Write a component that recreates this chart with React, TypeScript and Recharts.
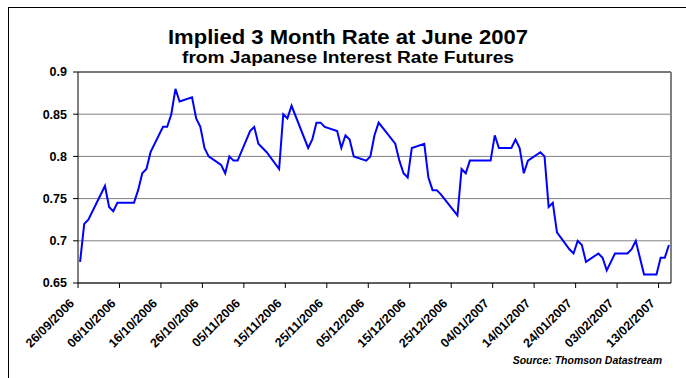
import React from "react";
import {
  LineChart,
  Line,
  XAxis,
  YAxis,
  CartesianGrid,
  ReferenceLine,
} from "recharts";

const dates: string[] = [
  "26/09/2006", "27/09/2006", "28/09/2006", "02/10/2006", "03/10/2006", "04/10/2006", "05/10/2006",
  "09/10/2006", "10/10/2006", "11/10/2006", "12/10/2006", "13/10/2006", "16/10/2006", "17/10/2006",
  "18/10/2006", "19/10/2006", "20/10/2006", "23/10/2006", "24/10/2006", "25/10/2006", "26/10/2006",
  "27/10/2006", "30/10/2006", "31/10/2006", "01/11/2006", "02/11/2006", "03/11/2006", "06/11/2006",
  "07/11/2006", "08/11/2006", "10/11/2006", "13/11/2006", "14/11/2006", "15/11/2006", "16/11/2006",
  "20/11/2006", "21/11/2006", "22/11/2006", "23/11/2006", "24/11/2006", "27/11/2006", "28/11/2006",
  "29/11/2006", "30/11/2006", "01/12/2006", "04/12/2006", "05/12/2006", "06/12/2006", "07/12/2006",
  "11/12/2006", "12/12/2006", "13/12/2006", "14/12/2006", "15/12/2006", "18/12/2006", "19/12/2006",
  "20/12/2006", "21/12/2006", "22/12/2006", "26/12/2006", "27/12/2006", "28/12/2006", "29/12/2006",
  "03/01/2007", "04/01/2007", "05/01/2007", "08/01/2007", "09/01/2007", "10/01/2007", "11/01/2007",
  "12/01/2007", "15/01/2007", "16/01/2007", "17/01/2007", "18/01/2007", "19/01/2007", "22/01/2007",
  "23/01/2007", "24/01/2007", "25/01/2007", "26/01/2007", "29/01/2007", "30/01/2007", "31/01/2007",
  "02/02/2007", "05/02/2007", "06/02/2007", "07/02/2007", "09/02/2007", "12/02/2007", "13/02/2007",
  "14/02/2007", "15/02/2007",
];

const rates: number[] = [
  0.675, 0.72, 0.725, 0.765, 0.74, 0.735, 0.745,
  0.745, 0.76, 0.78, 0.785, 0.805, 0.835, 0.835,
  0.85, 0.88, 0.865, 0.87, 0.845, 0.835, 0.81,
  0.8, 0.79, 0.78, 0.8, 0.795, 0.795, 0.83,
  0.835, 0.815, 0.805, 0.785, 0.85, 0.845, 0.86,
  0.81, 0.82, 0.84, 0.84, 0.835, 0.83, 0.81,
  0.825, 0.82, 0.8, 0.795, 0.8, 0.825, 0.84,
  0.815, 0.795, 0.78, 0.775, 0.81, 0.815, 0.775,
  0.76, 0.76, 0.755, 0.73, 0.785, 0.78, 0.795,
  0.795, 0.825, 0.81, 0.81, 0.82, 0.81, 0.78,
  0.795, 0.805, 0.8, 0.74, 0.745, 0.71, 0.69,
  0.685, 0.7, 0.695, 0.675, 0.685, 0.68, 0.665,
  0.685, 0.685, 0.69, 0.7, 0.66, 0.66, 0.68,
  0.68, 0.695,
];

const tickDates: string[] = [
  "26/09/2006", "06/10/2006", "16/10/2006", "26/10/2006", "05/11/2006", "15/11/2006", "25/11/2006",
  "05/12/2006", "15/12/2006", "25/12/2006", "04/01/2007", "14/01/2007", "24/01/2007", "03/02/2007",
  "13/02/2007",
];

const yTicks: number[] = [0.65, 0.7, 0.75, 0.8, 0.85, 0.9];

const TITLE = "Implied 3 Month Rate at June 2007";
const SUBTITLE = "from Japanese Interest Rate Futures";
const SOURCE = "Source: Thomson Datastream";

const DAY = 86400000;
const toUTC = (s: string) => {
  const [d, m, y] = s.split("/").map(Number);
  return Date.UTC(y, m - 1, d);
};
const base = toUTC(dates[0]);
const dayIndex = (s: string) => Math.round((toUTC(s) - base) / DAY);

const data = dates.map((d, i) => ({ x: dayIndex(d) + 0.5, rate: rates[i], date: d }));
const xTicks = tickDates.map(dayIndex);
const labelByDay: Record<number, string> = {};
tickDates.forEach((d) => (labelByDay[dayIndex(d)] = d));

const FONT = "'Liberation Sans', Arial, sans-serif";

const XTick = (props: any) => {
  const { x, y, payload } = props;
  const ax = x - 3;
  const ay = y + 14;
  return (
    <text
      x={ax}
      y={ay}
      transform={`rotate(-45 ${ax} ${ay})`}
      textAnchor="end"
      fontFamily={FONT}
      fontWeight="bold"
      fontSize={12.5}
      fill="#000"
    >
      {labelByDay[payload.value]}
    </text>
  );
};

export default function App() {
  return (
    <div
      style={{
        position: "absolute",
        left: 0,
        top: 0,
        width: 686,
        height: 378,
        overflow: "hidden",
        background: "#fff",
        fontFamily: FONT,
      }}
    >
      <div
        style={{
          position: "absolute",
          left: 8,
          top: 7,
          width: 720,
          height: 420,
          border: "1px solid #000",
        }}
      />
      <div style={{ position: "absolute", left: 0, top: 0 }}>
        <LineChart
          width={686}
          height={378}
          data={data}
          margin={{ top: 72, right: 15, left: 0, bottom: 0 }}
        >
          <text
            x={348}
            y={44}
            textAnchor="middle"
            fontFamily={FONT}
            fontWeight="bold"
            fontSize={20}
            textLength={360}
            lengthAdjust="spacingAndGlyphs"
            fill="#000"
          >
            {TITLE}
          </text>
          <text
            x={348}
            y={63}
            textAnchor="middle"
            fontFamily={FONT}
            fontWeight="bold"
            fontSize={16}
            textLength={332}
            lengthAdjust="spacingAndGlyphs"
            fill="#000"
          >
            {SUBTITLE}
          </text>
          <text
            x={662}
            y={364}
            textAnchor="end"
            fontFamily={FONT}
            fontWeight="bold"
            fontStyle="italic"
            fontSize={10.5}
            fill="#000"
          >
            {SOURCE}
          </text>
          <CartesianGrid vertical={false} stroke="#808080" strokeWidth={1} />
          <XAxis
            type="number"
            dataKey="x"
            domain={[0, 143]}
            ticks={xTicks}
            interval={0}
            height={95}
            tick={<XTick />}
            tickSize={5}
            axisLine={{ stroke: "#000", strokeWidth: 1 }}
            tickLine={{ stroke: "#000" }}
            allowDataOverflow
          />
          <YAxis
            type="number"
            domain={[0.65, 0.9]}
            ticks={yTicks}
            interval={0}
            width={78}
            tickSize={5}
            tickMargin={6}
            axisLine={{ stroke: "#000", strokeWidth: 1 }}
            tickLine={{ stroke: "#000" }}
            tick={{ fontFamily: FONT, fontWeight: "bold", fontSize: 12.5, fill: "#000" }}
            tickFormatter={(v: number) => String(v)}
            allowDataOverflow
          />
          <ReferenceLine y={0.9} stroke="#333" strokeWidth={1} />
          <ReferenceLine x={143} stroke="#808080" strokeWidth={2} />
          <Line
            type="linear"
            dataKey="rate"
            stroke="#0000FF"
            strokeWidth={2}
            dot={false}
            activeDot={false}
            isAnimationActive={false}
          />
        </LineChart>
      </div>
    </div>
  );
}
